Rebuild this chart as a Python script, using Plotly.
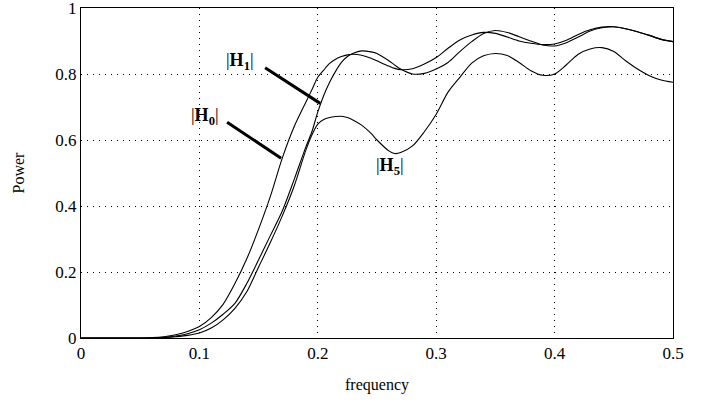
import plotly.graph_objects as go

# frequency grid
freq = [0.0, 0.05, 0.06, 0.07, 0.08, 0.09, 0.10, 0.11, 0.12, 0.13, 0.14, 0.15, 0.16, 0.17,
        0.18, 0.19, 0.195, 0.20, 0.205, 0.21, 0.215, 0.22, 0.225, 0.23, 0.237, 0.245, 0.25,
        0.26, 0.265, 0.27, 0.28, 0.29, 0.30, 0.31, 0.32, 0.33, 0.34, 0.35, 0.36, 0.37, 0.38,
        0.39, 0.40, 0.41, 0.42, 0.43, 0.44, 0.45, 0.46, 0.47, 0.48, 0.49, 0.50]

h0 = [0.0, 0.0, 0.001, 0.004, 0.010, 0.020, 0.035, 0.062, 0.102, 0.165, 0.24, 0.33, 0.43, 0.545,
      0.64, 0.715, 0.752, 0.79, 0.812, 0.832, 0.845, 0.853, 0.858, 0.86, 0.857, 0.848, 0.840,
      0.824, 0.817, 0.813, 0.816, 0.830, 0.850, 0.878, 0.903, 0.918, 0.926, 0.923, 0.912, 0.900, 0.893,
      0.889, 0.891, 0.902, 0.920, 0.934, 0.942, 0.943, 0.937, 0.928, 0.917, 0.905, 0.898]

h1 = [0.0, 0.0, 0.0, 0.002, 0.006, 0.013, 0.025, 0.045, 0.072, 0.105, 0.165, 0.237, 0.311, 0.385,
      0.48, 0.58, 0.625, 0.685, 0.735, 0.775, 0.808, 0.835, 0.853, 0.863, 0.870, 0.867, 0.862,
      0.840, 0.827, 0.815, 0.800, 0.802, 0.815, 0.835, 0.868, 0.898, 0.923, 0.932, 0.926, 0.913, 0.900,
      0.888, 0.885, 0.895, 0.912, 0.930, 0.940, 0.943, 0.937, 0.928, 0.917, 0.905, 0.898]

h5 = [0.0, 0.0, 0.0, 0.001, 0.004, 0.008, 0.015, 0.030, 0.055, 0.090, 0.140, 0.215, 0.29, 0.37,
      0.46, 0.57, 0.615, 0.648, 0.662, 0.668, 0.671, 0.672, 0.668, 0.660, 0.645, 0.620, 0.600,
      0.567, 0.559, 0.562, 0.582, 0.625, 0.678, 0.745, 0.790, 0.833, 0.855, 0.862, 0.856, 0.835, 0.810,
      0.796, 0.800, 0.828, 0.860, 0.876, 0.880, 0.868, 0.840, 0.815, 0.795, 0.782, 0.775]

x_ticks = [0, 0.1, 0.2, 0.3, 0.4, 0.5]
x_tick_labels = ["0", "0.1", "0.2", "0.3", "0.4", "0.5"]
y_ticks = [0, 0.2, 0.4, 0.6, 0.8, 1]
y_tick_labels = ["0", "0.2", "0.4", "0.6", "0.8", "1"]

serif = "Liberation Serif, Times New Roman, serif"

fig = go.Figure()
for name, ys in [("|H0|", h0), ("|H1|", h1), ("|H5|", h5)]:
    fig.add_trace(go.Scatter(x=freq, y=ys, mode="lines", name=name,
                             line=dict(color="black", width=1.1, shape="spline", smoothing=0.8),
                             showlegend=False, cliponaxis=False))

# pointer lines
fig.add_shape(type="line", x0=0.1555, y0=0.819, x1=0.2020, y1=0.711,
              line=dict(color="black", width=3))
fig.add_shape(type="line", x0=0.1234, y0=0.654, x1=0.1690, y1=0.545,
              line=dict(color="black", width=3))

labels = [("1", 0.1344, 0.837), ("0", 0.1048, 0.672), ("5", 0.2611, 0.521)]
for sub, lx, ly in labels:
    fig.add_annotation(x=lx, y=ly, text="|<b>H</b><sub><b>" + sub + "</b></sub>|", showarrow=False,
                       font=dict(family=serif, size=18, color="black"),
                       xanchor="center", yanchor="middle")

axis_common = dict(showline=True, linecolor="black", linewidth=1, mirror=True,
                   showgrid=True, gridcolor="black", gridwidth=1, griddash="1px,5px",
                   zeroline=False, ticks="", automargin=False, ticklabeloverflow="allow",
                   tickfont=dict(family=serif, size=17, color="black"))

fig.update_xaxes(range=[0, 0.5], tickvals=x_ticks, ticktext=x_tick_labels,
                 title=dict(text="frequency", font=dict(family=serif, size=16, color="black"),
                            standoff=16),
                 **axis_common)
fig.update_yaxes(range=[0, 1], tickvals=y_ticks, ticktext=y_tick_labels,
                 title=dict(text="Power", font=dict(family=serif, size=16, color="black"),
                            standoff=26),
                 **axis_common)

fig.update_layout(width=712, height=403, margin=dict(l=81, r=39, t=8, b=65),
                  plot_bgcolor="white", paper_bgcolor="white",
                  font=dict(family=serif, color="black"))

fig.write_html("out.html", config={"displayModeBar": False},
               post_script="document.body.style.margin='0px';document.body.style.overflow='hidden';")
